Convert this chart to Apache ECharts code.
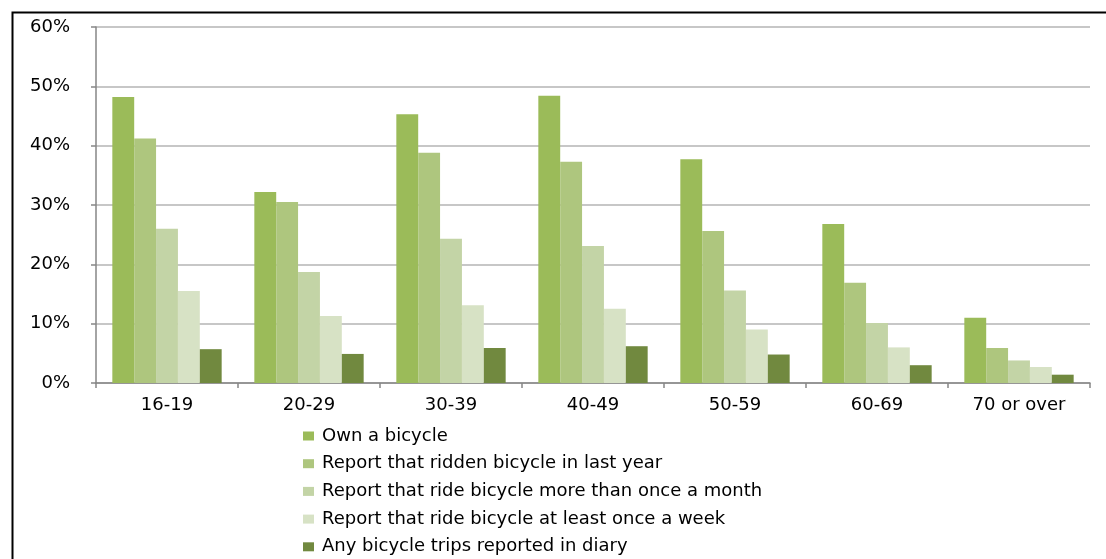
<!DOCTYPE html>
<html>
<head>
<meta charset="utf-8">
<script src="https://cdn.jsdelivr.net/npm/echarts@6/dist/echarts.min.js"></script>
<style>
html,body{margin:0;padding:0;background:#fff;}
#chart{width:1106px;height:559px;}
</style>
</head>
<body>
<div id="chart"></div>
<script>
const categories = ['16-19', '20-29', '30-39', '40-49', '50-59', '60-69', '70 or over'];
const seriesNames = [
  'Own a bicycle',
  'Report that ridden bicycle in last year',
  'Report that ride bicycle more than once a month',
  'Report that ride bicycle at least once a week',
  'Any bicycle trips reported in diary'
];
const ownBicycle      = [48.2, 32.2, 45.3, 48.4, 37.7, 26.8, 11.0];
const riddenLastYear  = [41.2, 30.5, 38.8, 37.3, 25.6, 16.9, 5.9];
const moreThanMonthly = [26.0, 18.7, 24.3, 23.1, 15.6, 10.1, 3.8];
const atLeastWeekly   = [15.5, 11.3, 13.1, 12.5, 9.0, 6.0, 2.7];
const diaryTrips      = [5.7, 4.9, 5.9, 6.2, 4.8, 3.0, 1.4];
const yTicks = [0, 10, 20, 30, 40, 50, 60];

const colors = ['#9BBB59', '#AEC67E', '#C3D4A6', '#D7E2C5', '#71893F'];
const seriesData = [ownBicycle, riddenLastYear, moreThanMonthly, atLeastWeekly, diaryTrips];

const font = '"DejaVu Sans", Verdana, sans-serif';
const chart = echarts.init(document.getElementById('chart'), null, {renderer: 'canvas'});
chart.setOption({
  animation: false,
  color: colors,
  graphic: [{
    type: 'rect',
    left: 10, top: 10,
    shape: {x: 0, y: 0, width: 1110, height: 570},
    style: {fill: 'none', stroke: '#000', lineWidth: 2},
    silent: true
  }],
  grid: {left: 96, right: 16, top: 27, bottom: 176, containLabel: false},
  xAxis: {
    type: 'category',
    data: categories,
    axisLine: {lineStyle: {color: '#868686', width: 1.5}},
    axisTick: {show: true, alignWithLabel: false, length: 5, lineStyle: {color: '#868686', width: 1.5}},
    axisLabel: {color: '#000', fontFamily: font, fontSize: 18, margin: 13}
  },
  yAxis: {
    type: 'value',
    min: yTicks[0], max: yTicks[yTicks.length - 1], interval: 10,
    axisLine: {show: true, lineStyle: {color: '#868686', width: 1.5}},
    axisTick: {show: true, length: 5, lineStyle: {color: '#868686', width: 1.5}},
    splitLine: {lineStyle: {color: '#B4B4B4', width: 1.5}},
    axisLabel: {color: '#000', fontFamily: font, fontSize: 18, margin: 26, padding: [3, 0, 0, 0], formatter: v => v + '%'}
  },
  legend: {
    orient: 'vertical',
    left: 303, top: 427,
    padding: 0,
    itemWidth: 11, itemHeight: 9,
    itemGap: 9.7,
    icon: 'rect',
    data: seriesNames,
    textStyle: {color: '#000', fontFamily: font, fontSize: 18, lineHeight: 18, padding: [0, 0, 0, 3]}
  },
  series: seriesNames.map((name, i) => ({
    name: name,
    type: 'bar',
    data: seriesData[i],
    barGap: '0%',
    barCategoryGap: '23%',
    itemStyle: {color: colors[i]}
  }))
});
</script>
</body>
</html>
